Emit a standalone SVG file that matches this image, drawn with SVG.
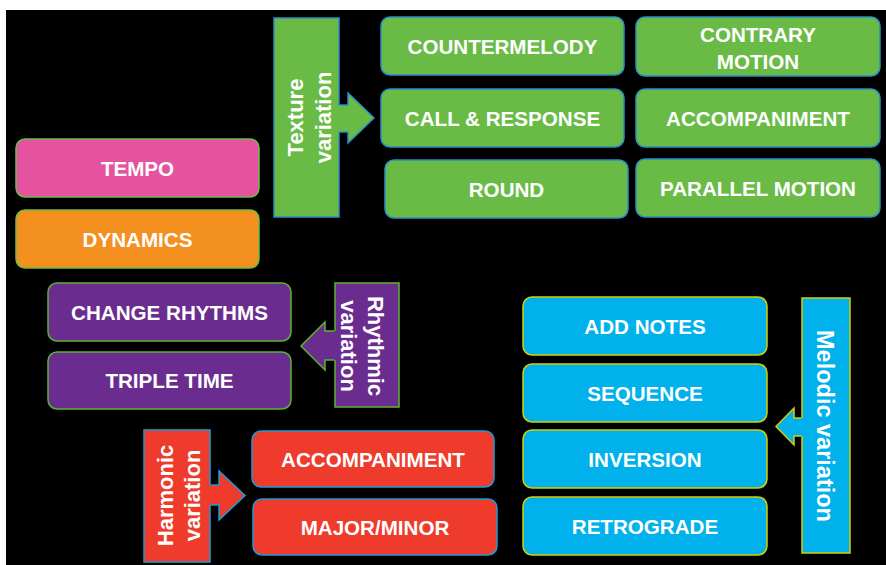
<svg xmlns="http://www.w3.org/2000/svg" width="886" height="565" viewBox="0 0 886 565">
<style>
.t{font-family:"Liberation Sans",Arial,sans-serif;font-weight:bold;font-size:20.6px;fill:#fff;text-anchor:middle}
.v{font-family:"Liberation Sans",Arial,sans-serif;font-weight:bold;font-size:22px;fill:#fff;text-anchor:middle}
.g{fill:#69bb46;stroke:#2a8fc8;stroke-width:1.5}
.gv{fill:#69bb46;stroke:#2a8fc8;stroke-width:1.5}
.pk{fill:#e5529f;stroke:#6cbd45;stroke-width:1.5}
.or{fill:#f39020;stroke:#6cbd45;stroke-width:1.5}
.pu{fill:#6a2d8f;stroke:#5cb335;stroke-width:1.5}
.rd{fill:#ee3b2b;stroke:#1f9bd7;stroke-width:1.5}
.bl{fill:#00b1eb;stroke:#d4d000;stroke-width:1.5}
</style>
<rect x="0" y="0" width="886" height="565" fill="#fff"/>
<rect x="6" y="10" width="880" height="555" fill="#000"/>

<g id="texture-variation">
<rect class="gv" x="274" y="18" width="65" height="199"/>
<text class="v" transform="translate(303,117.5) rotate(-90)">Texture</text>
<text class="v" transform="translate(331,117.5) rotate(-90)">variation</text>
</g>
<g id="countermelody"><rect class="g" x="381" y="17" width="243" height="58" rx="9"/><text class="t" x="502.5" y="53.5">COUNTERMELODY</text></g>
<g id="call-response"><rect class="g" x="381" y="89" width="243" height="58" rx="9"/><text class="t" x="502.5" y="125.5">CALL &amp; RESPONSE</text></g>
<g id="round"><rect class="g" x="385" y="160" width="243" height="58" rx="9"/><text class="t" x="506.5" y="196.5">ROUND</text></g>
<g id="contrary-motion"><rect class="g" x="636" y="17" width="244" height="59" rx="9"/><text class="t" x="758" y="42">CONTRARY</text><text class="t" x="758" y="68.5">MOTION</text></g>
<g id="accompaniment-texture"><rect class="g" x="636" y="89" width="244" height="58" rx="9"/><text class="t" x="758" y="125.5">ACCOMPANIMENT</text></g>
<g id="parallel-motion"><rect class="g" x="636" y="159" width="244" height="58" rx="9"/><text class="t" x="758" y="195.5">PARALLEL MOTION</text></g>

<g id="tempo"><rect class="pk" x="16" y="139" width="243" height="58" rx="9"/><text class="t" x="137.5" y="175.5">TEMPO</text></g>
<g id="dynamics"><rect class="or" x="16" y="210" width="243" height="58" rx="9"/><text class="t" x="137.5" y="246.5">DYNAMICS</text></g>

<g id="rhythmic-variation">
<rect class="pu" x="335" y="283" width="64" height="124"/>
<text class="v" transform="translate(368,346) rotate(90)">Rhythmic</text>
<text class="v" transform="translate(341,346) rotate(90)">variation</text>
</g>
<g id="change-rhythms"><rect class="pu" x="48" y="283" width="243" height="58" rx="9"/><text class="t" x="169.5" y="319.5">CHANGE RHYTHMS</text></g>
<g id="triple-time"><rect class="pu" x="48" y="352" width="243" height="57" rx="9"/><text class="t" x="169.5" y="388">TRIPLE TIME</text></g>

<g id="harmonic-variation">
<rect class="rd" x="144" y="430" width="66" height="132"/>
<text class="v" transform="translate(173,495.5) rotate(-90)">Harmonic</text>
<text class="v" transform="translate(200,495.5) rotate(-90)">variation</text>
</g>
<g id="accompaniment-harmonic"><rect class="rd" x="252" y="431" width="242" height="56" rx="9"/><text class="t" x="373" y="466.5">ACCOMPANIMENT</text></g>
<g id="major-minor"><rect class="rd" x="253" y="499" width="244" height="56" rx="9"/><text class="t" x="375" y="534.5">MAJOR/MINOR</text></g>

<g id="melodic-variation">
<rect class="bl" x="802" y="298" width="48" height="255"/>
<text class="v" style="font-size:23.5px" transform="translate(817,426) rotate(90)">Melodic variation</text>
</g>
<g id="add-notes"><rect class="bl" x="523" y="297" width="244" height="58" rx="9"/><text class="t" x="645" y="333.5">ADD NOTES</text></g>
<g id="sequence"><rect class="bl" x="523" y="364" width="244" height="58" rx="9"/><text class="t" x="645" y="400.5">SEQUENCE</text></g>
<g id="inversion"><rect class="bl" x="523" y="430" width="244" height="58" rx="9"/><text class="t" x="645" y="466.5">INVERSION</text></g>
<g id="retrograde"><rect class="bl" x="523" y="497" width="244" height="58" rx="9"/><text class="t" x="645" y="533.5">RETROGRADE</text></g>

<g id="connectors">
<path d="M337,105 H348 V93 L374,118 L348,143 V132 H337 Z" fill="#69bb46"/>
<path d="M339.7,105 H348 V93 L374,118 L348,143 V132 H339.7" fill="none" stroke="#2a8fc8" stroke-width="1.5"/>
<path d="M337,331 H325 V322 L301,346 L325,370 V360 H337 Z" fill="#6a2d8f"/>
<path d="M334.3,331 H325 V322 L301,346 L325,370 V360 H334.3" fill="none" stroke="#5cb335" stroke-width="1.5"/>
<path d="M208,485 H219 V471 L245,495.5 L219,520 V505 H208 Z" fill="#ee3b2b"/>
<path d="M210.7,485 H219 V471 L245,495.5 L219,520 V505 H210.7" fill="none" stroke="#1f9bd7" stroke-width="1.5"/>
<path d="M804,418 H794 V408 L776,426.5 L794,445 V436 H804 Z" fill="#00b1eb"/>
<path d="M801.3,418 H794 V408 L776,426.5 L794,445 V436 H801.3" fill="none" stroke="#d4d000" stroke-width="1.5"/>
</g>
</svg>
